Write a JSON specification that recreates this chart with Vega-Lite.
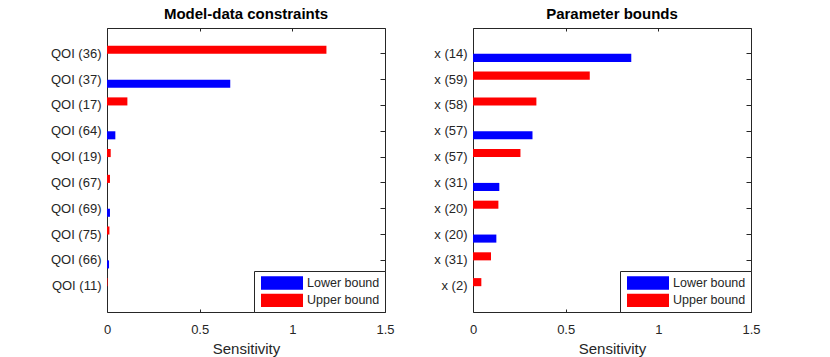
{
  "$schema": "https://vega.github.io/schema/vega-lite/v6.json",
  "background": "white",
  "padding": {"left": 49, "top": 6, "right": 5, "bottom": 5},
  "datasets": {
    "left": [
      {"k": "01#QOI (36)", "b": "Upper bound", "v": 1.184},
      {"k": "02#QOI (37)", "b": "Lower bound", "v": 0.665},
      {"k": "03#QOI (17)", "b": "Upper bound", "v": 0.110},
      {"k": "04#QOI (64)", "b": "Lower bound", "v": 0.045},
      {"k": "05#QOI (19)", "b": "Upper bound", "v": 0.020},
      {"k": "06#QOI (67)", "b": "Upper bound", "v": 0.016},
      {"k": "07#QOI (69)", "b": "Lower bound", "v": 0.016},
      {"k": "08#QOI (75)", "b": "Upper bound", "v": 0.013},
      {"k": "09#QOI (66)", "b": "Lower bound", "v": 0.011},
      {"k": "10#QOI (11)", "b": "Upper bound", "v": 0.003}
    ],
    "right": [
      {"k": "01#x (14)", "b": "Lower bound", "v": 0.854},
      {"k": "02#x (59)", "b": "Upper bound", "v": 0.630},
      {"k": "03#x (58)", "b": "Upper bound", "v": 0.342},
      {"k": "04#x (57)", "b": "Lower bound", "v": 0.321},
      {"k": "05#x (57)", "b": "Upper bound", "v": 0.256},
      {"k": "06#x (31)", "b": "Lower bound", "v": 0.142},
      {"k": "07#x (20)", "b": "Upper bound", "v": 0.137},
      {"k": "08#x (20)", "b": "Lower bound", "v": 0.126},
      {"k": "09#x (31)", "b": "Upper bound", "v": 0.097},
      {"k": "10#x (2)", "b": "Upper bound", "v": 0.045}
    ]
  },
  "hconcat": [
    {
      "title": {"text": "Model-data constraints"},
      "width": 278,
      "height": 284,
      "data": {"name": "left"},
      "layer": [
        {
          "mark": {"type": "bar"},
          "encoding": {
            "y": {"field": "k", "type": "nominal", "sort": null,
              "scale": {"paddingInner": 0, "paddingOuter": 0.5},
              "axis": {"orient": "left", "title": null, "labelExpr": "split(datum.value,'#')[1]", "ticks": false, "labelPadding": 6, "domain": false, "bandPosition": 0.5}},
            "x": {"field": "v", "type": "quantitative",
              "scale": {"domain": [0, 1.5], "nice": false, "zero": true},
              "axis": {"orient": "bottom", "values": [0, 0.5, 1, 1.5], "format": "~g", "labelFlush": false, "title": "Sensitivity", "grid": false, "domain": false, "tickSize": -3, "labelPadding": 14, "titlePadding": 5}},
            "yOffset": {"field": "b", "type": "nominal", "scale": {"domain": ["Upper bound", "Lower bound"], "paddingInner": 0, "paddingOuter": 0.6}},
            "color": {"field": "b", "type": "nominal",
              "scale": {"domain": ["Lower bound", "Upper bound"], "range": ["#0000ff", "#ff0000"]},
              "legend": {"orient": "bottom-right", "offset": 0, "title": null, "strokeColor": "#262626", "fillColor": "white", "padding": 5, "symbolType": "M-3,-0.95H3V0.95H-3Z", "symbolSize": 196, "symbolOffset": 16, "labelOffset": 18, "symbolStrokeWidth": 0, "symbolOpacity": 1, "labelFontSize": 12.5, "labelColor": "#262626", "rowPadding": 3.3, "cornerRadius": 0}}
          }
        },
        {
          "mark": {"type": "bar", "opacity": 0},
          "encoding": {
            "y": {"field": "k", "type": "nominal", "sort": null,
              "axis": {"orient": "right", "title": null, "labels": false, "tickSize": -5, "domain": false, "bandPosition": 0.5}},
            "x": {"field": "v", "type": "quantitative",
              "axis": {"orient": "top", "values": [0, 0.5, 1, 1.5], "title": null, "labels": false, "grid": false, "domain": false, "tickSize": -3}}
          }
        }
      ],
      "resolve": {"axis": {"x": "independent", "y": "independent"}}
    },
    {
      "title": {"text": "Parameter bounds"},
      "width": 278,
      "height": 284,
      "data": {"name": "right"},
      "layer": [
        {
          "mark": {"type": "bar"},
          "encoding": {
            "y": {"field": "k", "type": "nominal", "sort": null,
              "scale": {"paddingInner": 0, "paddingOuter": 0.5},
              "axis": {"orient": "left", "title": null, "labelExpr": "split(datum.value,'#')[1]", "ticks": false, "labelPadding": 6, "domain": false, "bandPosition": 0.5}},
            "x": {"field": "v", "type": "quantitative",
              "scale": {"domain": [0, 1.5], "nice": false, "zero": true},
              "axis": {"orient": "bottom", "values": [0, 0.5, 1, 1.5], "format": "~g", "labelFlush": false, "title": "Sensitivity", "grid": false, "domain": false, "tickSize": -3, "labelPadding": 14, "titlePadding": 5}},
            "yOffset": {"field": "b", "type": "nominal", "scale": {"domain": ["Upper bound", "Lower bound"], "paddingInner": 0, "paddingOuter": 0.6}},
            "color": {"field": "b", "type": "nominal",
              "scale": {"domain": ["Lower bound", "Upper bound"], "range": ["#0000ff", "#ff0000"]},
              "legend": {"orient": "bottom-right", "offset": 0, "title": null, "strokeColor": "#262626", "fillColor": "white", "padding": 5, "symbolType": "M-3,-0.95H3V0.95H-3Z", "symbolSize": 196, "symbolOffset": 16, "labelOffset": 18, "symbolStrokeWidth": 0, "symbolOpacity": 1, "labelFontSize": 12.5, "labelColor": "#262626", "rowPadding": 3.3, "cornerRadius": 0}}
          }
        },
        {
          "mark": {"type": "bar", "opacity": 0},
          "encoding": {
            "y": {"field": "k", "type": "nominal", "sort": null,
              "axis": {"orient": "right", "title": null, "labels": false, "tickSize": -5, "domain": false, "bandPosition": 0.5}},
            "x": {"field": "v", "type": "quantitative",
              "axis": {"orient": "top", "values": [0, 0.5, 1, 1.5], "title": null, "labels": false, "grid": false, "domain": false, "tickSize": -3}}
          }
        }
      ],
      "resolve": {"axis": {"x": "independent", "y": "independent"}}
    }
  ],
  "spacing": 38,
  "resolve": {"scale": {"color": "independent"}, "legend": {"color": "independent"}},
  "config": {
    "font": "Liberation Sans",
    "view": {"stroke": "#262626", "strokeWidth": 1},
    "axis": {"labelFontSize": 13, "labelColor": "#262626", "titleFontSize": 15, "titleFontWeight": "normal", "titleColor": "#262626", "tickColor": "#262626", "labelFont": "Liberation Sans", "titleFont": "Liberation Sans"},
    "title": {"fontSize": 15, "fontWeight": "bold", "color": "black", "offset": 6, "font": "Liberation Sans"},
    "legend": {"labelFont": "Liberation Sans"}
  }
}
